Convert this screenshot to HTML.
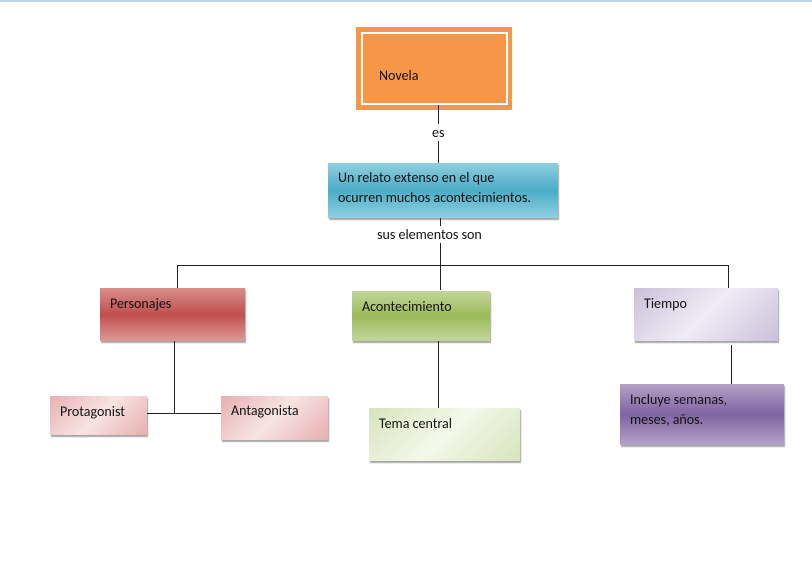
<!DOCTYPE html>
<html><head><meta charset="utf-8"><style>
body{margin:0;width:812px;height:570px;background:#fff;position:relative;overflow:hidden;font-family:Calibri,"Liberation Sans",sans-serif;font-size:14px;color:#111}
.a{position:absolute}
.box{position:absolute;box-sizing:border-box;box-shadow:1px 2px 1px rgba(0,0,0,0.35)}
.t{position:absolute}
.l{position:absolute;background:#222}
</style></head><body>
<div class="a" style="left:0;top:0;width:812px;height:2px;background:#bcd7ea"></div>
<div class="box" style="left:356px;top:27px;width:156px;height:83px;background:#f79646;box-shadow:none"></div>
<div class="a" style="left:361px;top:32px;width:147px;height:73px;border:2px solid #fff;box-sizing:border-box"></div>
<div class="t" style="left:379px;top:67px">Novela</div>
<div class="l" style="left:438px;top:105px;width:1px;height:58px"></div>
<div class="t" style="left:432px;top:124px;background:#fff">es</div>
<div class="box" style="left:328px;top:163px;width:230px;height:55px;background:linear-gradient(#8fd0e2,#4bacc6 50%,#8fd0e2)"></div>
<div class="t" style="left:338px;top:168px;line-height:20px">Un relato extenso en el que<br>ocurren muchos acontecimientos.</div>
<div class="l" style="left:440px;top:218px;width:1px;height:72px"></div>
<div class="t" style="left:377px;top:226px;background:#fff">sus elementos son</div>
<div class="l" style="left:177px;top:265px;width:552px;height:1px"></div>
<div class="l" style="left:177px;top:265px;width:1px;height:23px"></div>
<div class="l" style="left:728px;top:265px;width:1px;height:25px"></div>
<div class="box" style="left:100px;top:288px;width:145px;height:53px;background:linear-gradient(#d98d8b,#c0504d 50%,#dc9996)"></div>
<div class="t" style="left:110px;top:295px">Personajes</div>
<div class="l" style="left:174px;top:341px;width:1px;height:72px"></div>
<div class="l" style="left:147px;top:413px;width:74px;height:1px"></div>
<div class="box" style="left:50px;top:396px;width:97px;height:39px;background:linear-gradient(135deg,#e6b0ae,#f7e4e3 50%,#e6b0ae)"></div>
<div class="t" style="left:60px;top:403px">Protagonist</div>
<div class="box" style="left:221px;top:396px;width:107px;height:44px;background:linear-gradient(135deg,#e6b0ae,#f7e4e3 50%,#e6b0ae)"></div>
<div class="t" style="left:231px;top:402px">Antagonista</div>
<div class="box" style="left:352px;top:291px;width:138px;height:50px;background:linear-gradient(#c3d69b,#9bbb59 50%,#c3d69b)"></div>
<div class="t" style="left:362px;top:298px">Acontecimiento</div>
<div class="l" style="left:438px;top:341px;width:1px;height:67px"></div>
<div class="box" style="left:369px;top:408px;width:151px;height:53px;background:linear-gradient(135deg,#d7e4bc,#f4f8ea 50%,#d7e4bc)"></div>
<div class="t" style="left:379px;top:415px">Tema central</div>
<div class="box" style="left:634px;top:288px;width:144px;height:53px;background:linear-gradient(135deg,#cbc0da,#f0ecf5 50%,#cbc0da)"></div>
<div class="t" style="left:644px;top:295px">Tiempo</div>
<div class="l" style="left:731px;top:345px;width:1px;height:42px"></div>
<div class="box" style="left:620px;top:384px;width:164px;height:61px;background:linear-gradient(#b3a2c7,#8064a2 50%,#b3a2c7)"></div>
<div class="t" style="left:630px;top:390px;line-height:20px">Incluye semanas,<br>meses, años.</div>
</body></html>
